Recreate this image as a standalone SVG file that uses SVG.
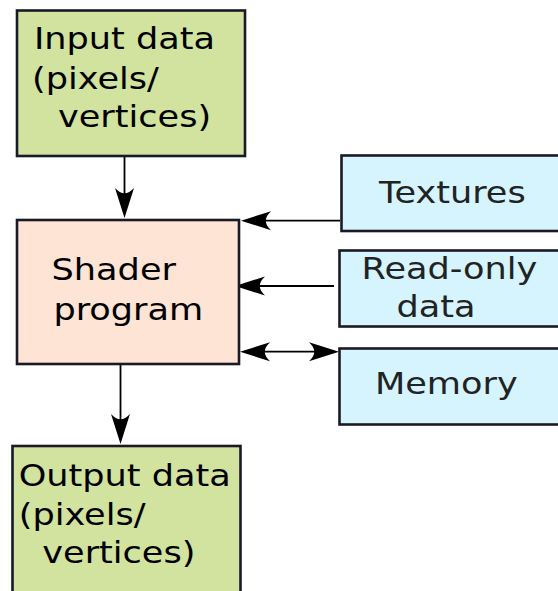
<svg xmlns="http://www.w3.org/2000/svg" width="558" height="591" viewBox="0 0 558 591">
  <style>
    .box { stroke: #1a1a26; stroke-width: 2.6; }
    .data { fill: #d1e39f; }
    .prog { fill: #fde4d4; }
    .res { fill: #d5f4fd; }
    .t { font-family: "DejaVu Sans", "Bitstream Vera Sans", sans-serif; font-size: 29.5px; fill: #000; }
    .t2 { fill: #222; }
    .wire { fill: none; stroke: #000; stroke-width: 1.8; }
  </style>
  <defs>
    <!-- swept-back arrowhead; tip sits 10 units beyond the line end -->
    <marker id="head" markerUnits="userSpaceOnUse" orient="auto-start-reverse" overflow="visible" markerWidth="30" markerHeight="20" refX="0" refY="0">
      <path d="M10,0 L-20,-9.5 C-13,-3 -13,3 -20,9.5 Z" fill="#000"/>
    </marker>
  </defs>

  <g id="connectors">
    <line class="wire" x1="124.5" y1="157" x2="124.5" y2="208" marker-end="url(#head)"/>
    <line class="wire" x1="120.5" y1="365" x2="120.5" y2="434" marker-end="url(#head)"/>
    <line class="wire" x1="340" y1="220.7" x2="251" y2="220.7" marker-end="url(#head)"/>
    <line class="wire" x1="334" y1="286" x2="245" y2="286" marker-end="url(#head)"/>
    <line class="wire" x1="250" y1="351.7" x2="329" y2="351.7" marker-start="url(#head)" marker-end="url(#head)"/>
  </g>

  <g id="input-data">
    <rect class="box data" x="17" y="10.5" width="228" height="145.5"/>
    <text class="t" transform="translate(34 48.5) scale(1.19 1)">Input data</text>
    <text class="t" transform="translate(32 88.5) scale(1.19 1)">(pixels/</text>
    <text class="t" transform="translate(58 127) scale(1.19 1)">vertices)</text>
  </g>

  <g id="shader-program">
    <rect class="box prog" x="17" y="220" width="222" height="144"/>
    <text class="t" transform="translate(51.6 280) scale(1.19 1)">Shader</text>
    <text class="t" transform="translate(53.4 320) scale(1.19 1)">program</text>
  </g>

  <g id="output-data">
    <rect class="box data" x="12.5" y="446" width="228" height="160"/>
    <text class="t" transform="translate(18.7 486) scale(1.19 1)">Output data</text>
    <text class="t" transform="translate(18.7 525) scale(1.19 1)">(pixels/</text>
    <text class="t" transform="translate(42.3 563) scale(1.19 1)">vertices)</text>
  </g>

  <g id="textures">
    <rect class="box res" x="341.5" y="155.5" width="230" height="75.5"/>
    <text class="t t2" transform="translate(379 202.5) scale(1.19 1)">Textures</text>
  </g>

  <g id="read-only-data">
    <rect class="box res" x="339.5" y="250.5" width="230" height="76"/>
    <text class="t t2" transform="translate(361.6 279) scale(1.19 1)">Read-only</text>
    <text class="t t2" transform="translate(396.5 317) scale(1.19 1)">data</text>
  </g>

  <g id="memory">
    <rect class="box res" x="339.5" y="348.5" width="230" height="76"/>
    <text class="t t2" transform="translate(375 393.5) scale(1.19 1)">Memory</text>
  </g>
</svg>
